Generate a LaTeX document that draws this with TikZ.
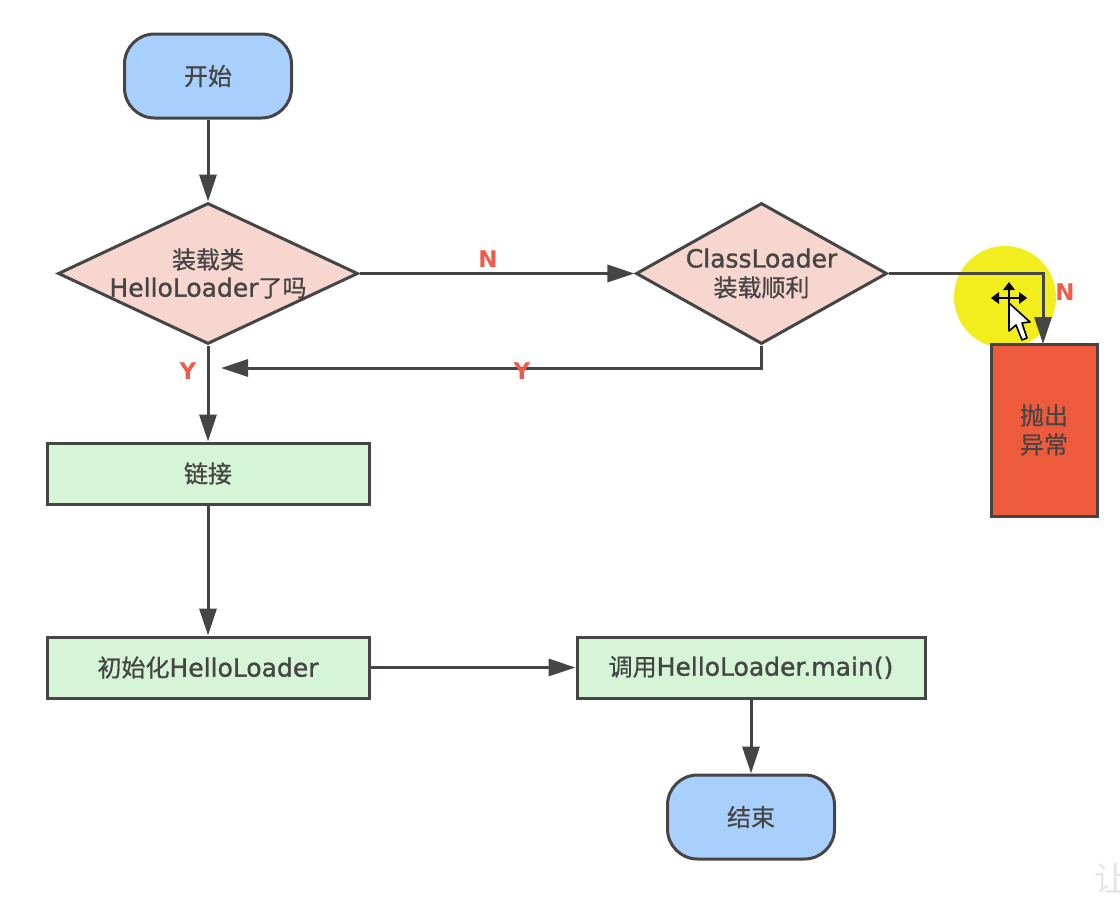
\documentclass[tikz,border=0pt]{standalone}
\usepackage{fontspec}
\setmainfont{DejaVu Sans}[FakeBold=1.2]
\newfontfamily\labelfont{DejaVu Sans Bold}
\newfontfamily\cjk{Noto Sans CJK SC}[FakeBold=0.7,Scale=0.96]
\newfontfamily\cjkplain{Noto Sans CJK SC}
\usetikzlibrary{arrows.meta,shapes.geometric}
\newcommand{\wideline}[1]{\makebox[0pt][c]{#1}}
\definecolor{linegrey}{HTML}{454545}
\definecolor{blueterm}{HTML}{A9CFFC}
\definecolor{pinkdec}{HTML}{F8D6D0}
\definecolor{greenbox}{HTML}{D5F5D6}
\definecolor{redbox}{HTML}{EE5A3C}
\definecolor{labelred}{HTML}{EE5B48}
\definecolor{hiyellow}{HTML}{F2EE1E}
\tikzset{
  x=1pt,y=-1pt,
  base/.style={draw=linegrey,line width=3pt,text=linegrey,inner sep=0pt,font=\fontsize{25}{29}\selectfont,align=center},
  terminal/.style={base,fill=blueterm,minimum width=167pt,minimum height=84pt,rounded corners=30pt},
  decision/.style={base,fill=pinkdec,diamond,inner sep=0pt,aspect=1.78},
  procbox/.style={base,fill=greenbox,minimum height=61pt},
  errbox/.style={base,fill=redbox,minimum width=106pt,minimum height=172pt},
  conn/.style={draw=linegrey,line width=3pt,-{Triangle[length=27pt,width=17pt]}},
  edgelabel/.style={text=labelred,font=\labelfont\fontsize{23}{26}\selectfont,inner sep=0pt},
}
\begin{document}
\begin{tikzpicture}
\useasboundingbox (0,0) rectangle (1120,902);
\clip (0,0) rectangle (1120,902);
\node[circle,fill=hiyellow,minimum size=102pt,inner sep=0pt] (halo) at (1005,297) {};
\node[terminal] (start) at (208,76) {\cjk 开始};
\node[decision,minimum width=300pt,minimum height=141pt] (d1) at (208,273.5) {\wideline{\raisebox{-3pt}{\cjk 装载类}}\\\wideline{\raisebox{-2pt}{HelloLoader{\cjk 了吗}}}};
\node[decision,minimum width=251pt,minimum height=141pt] (d2) at (761.5,273.5) {\wideline{\raisebox{-2pt}{ClassLoader}}\\\wideline{\raisebox{-2pt}{\cjk 装载顺利}}};
\node[procbox,minimum width=322pt] (link) at (208,473.5) {\raisebox{-1.5pt}{\cjk 链接}};
\node[procbox,minimum width=322pt] (init) at (208,667.5) {{\cjk 初始化}HelloLoader};
\node[procbox,minimum width=348pt] (call) at (751,667.5) {{\cjk 调用}HelloLoader.main()};
\node[terminal] (stop) at (751,817) {\cjk 结束};
\node[errbox] (err) at (1044,430) {\raisebox{-1.5pt}{\cjk 抛出}\\\raisebox{-1.5pt}{\cjk 异常}};
\coordinate (back) at (221,368);
\coordinate (errin) at (1043,344);
\draw[conn] (start) -- (d1);
\draw[conn] (d1) -- (link);
\draw[conn] (d1) -- (d2);
\draw[conn] (d2.east) -- (errin |- d2.east) -- (errin);
\draw[conn] (d2.south) |- (back);
\draw[conn] (link) -- (init);
\draw[conn] (init) -- (call);
\draw[conn] (call) -- (stop);
\node[edgelabel] (n1) at (488,259) {N};
\node[edgelabel] (n2) at (1065,292) {N};
\node[edgelabel] (y1) at (188,371) {Y};
\node[edgelabel] (y2) at (522,371) {Y};
% cursor
\draw[black,line width=2pt] (993,298) -- (1026,298) (1009,284) -- (1009,312);
\fill[black] (991,298) -- (999,292) -- (999,304) -- cycle
 (1027,298) -- (1019,292) -- (1019,304) -- cycle
 (1009,282) -- (1003,290) -- (1015,290) -- cycle;
\draw[black,fill=white,line width=1.6pt,line join=round] (1009,303) -- (1009,331) -- (1016,325) -- (1022,340) -- (1027,338) -- (1022,323) -- (1030,322) -- cycle;
\node[text=black!10,font=\cjkplain\fontsize{34}{34}\selectfont,inner sep=0pt,anchor=west] (wm) at (1094,878) {让};
\end{tikzpicture}
\end{document}
